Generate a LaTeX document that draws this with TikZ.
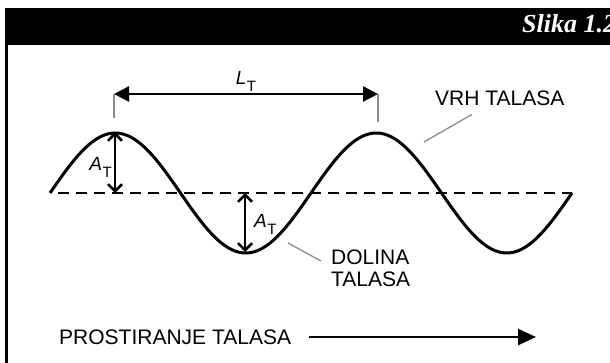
\documentclass[tikz,border=0pt]{standalone}
\usepackage{fontspec}
\setmainfont{Liberation Sans}
\newfontfamily\captionserif{Liberation Serif}
\usetikzlibrary{arrows.meta,positioning}
\definecolor{leadgray}{gray}{0.55}
\newcommand{\subT}[1]{{\fontsize{19}{19}\selectfont\textit{#1}}\kern0.5pt\raisebox{-7pt}{\fontsize{15}{15}\selectfont T}}

\begin{document}
\begin{tikzpicture}[x=1pt,y=-1pt,font=\fontsize{21}{22}\selectfont,
  wave/.style={line width=3pt},
  axisline/.style={line width=2.5pt,dash pattern=on 11pt off 7pt},
  ampl/.style={line width=2.5pt,{Straight Barb[length=7pt,width=14pt]}-{Straight Barb[length=7pt,width=14pt]}},
  span/.style={line width=2.5pt,{Triangle[length=15pt,width=15pt]}-{Triangle[length=15pt,width=15pt]}},
  prop/.style={line width=2.5pt,-{Triangle[length=18pt,width=16pt]}},
  leader/.style={leadgray,line width=1.3pt},
  lbl/.style={inner sep=0pt}]
\useasboundingbox (0,0) rectangle (610,363);
\clip (0,0) rectangle (610,363);
\fill[black] (5,8) rectangle (610,45);
\fill[black] (5,45) rectangle (8,363);
\node[lbl,anchor=base west,text=white,font=\captionserif\bfseries\itshape\fontsize{26}{26}\selectfont] (slika) at (522,33) {Slika 1.2};
\coordinate (crestA) at (115,132);
\coordinate (zeroA) at (115,193);
\coordinate (troughA) at (245,252);
\coordinate (zeroB) at (245,193);
\coordinate (axisL) at (58,193);
\coordinate (axisR) at (572,193);
\coordinate (spanL) at (114,94);
\coordinate (spanR) at (378,94);
\coordinate (tickL) at (114,118);
\coordinate (tickR) at (378,122);
\coordinate (crestpt) at (424,142);
\coordinate (troughpt) at (288,243);
\coordinate (propend) at (536,337);
\draw[axisline] (axisL) -- (axisR);
\draw[wave] plot[domain=50:572,samples=200,smooth] (\x,{193-60*sin(1.37931*(\x-50))});
\draw[leader] (spanL) -- (tickL);
\draw[leader] (spanR) -- (tickR);
\draw[span] (spanL) -- (spanR) node[midway,above=1pt,lbl] (lt) {\subT{L}};
\draw[ampl] (crestA) -- (zeroA);
\draw[ampl] (zeroB) -- (troughA);
\node[lbl,anchor=base east] (atA) at (112,171) {\subT{A}};
\node[lbl,anchor=base west] (atB) at (254,228) {\subT{A}};
\node[lbl,anchor=base west] (crestlbl) at (435,106) {VRH TALASA};
\node[lbl,anchor=north west,align=left] (troughlbl) at (331,250) {DOLINA\\TALASA};
\draw[leader] ([shift={(37,8)}]crestlbl.south west) -- (crestpt);
\draw[leader] (troughpt) -- ([shift={(-10,11)}]troughlbl.north west);
\node[lbl,anchor=west] (prost) at (59,337) {PROSTIRANJE TALASA};
\draw[prop] ([xshift=18pt]prost.east) -- (propend);
\end{tikzpicture}
\end{document}
